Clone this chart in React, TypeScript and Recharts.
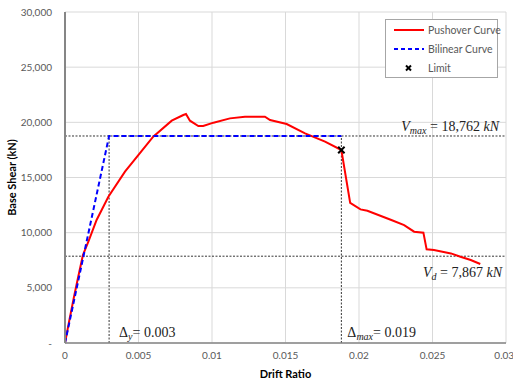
import React from "react";
import {
  ComposedChart,
  Line,
  Scatter,
  XAxis,
  YAxis,
  CartesianGrid,
  ReferenceLine,
  Legend,
} from "recharts";

const pushoverDrift = [
  0, 0.0003, 0.0006, 0.0009, 0.00122, 0.00159, 0.00215, 0.00295, 0.00408, 0.005,
  0.006, 0.00726, 0.00805, 0.00823, 0.0085, 0.00907, 0.0094, 0.0101, 0.01122,
  0.01224, 0.0136, 0.01395, 0.01508, 0.01633, 0.01769, 0.0188, 0.0194, 0.0201,
  0.02057, 0.0222, 0.02307, 0.02375, 0.02438, 0.0246, 0.0251, 0.02625, 0.0269,
  0.0276, 0.02825,
];
const pushoverShear = [
  0, 2100, 4100, 6000, 7980, 9180, 11150, 13260, 15530, 17040, 18700, 20150,
  20665, 20755, 20150, 19670, 19670, 19970, 20360, 20510, 20510, 20210, 19850,
  19000, 18250, 17490, 12700, 12110, 11990, 11150, 10690, 10090, 10000, 8490,
  8430, 8120, 7820, 7520, 7160,
];

const bilinearDrift = [0, 0.003, 0.0188];
const bilinearShear = [0, 18762, 18762];

const limitDrift = [0.0188];
const limitShear = [17490];

const V_MAX = 18762;
const V_D = 7867;
const DELTA_Y = 0.003;
const DELTA_MAX = 0.0188;

const xTicks = [0, 0.005, 0.01, 0.015, 0.02, 0.025, 0.03];
const yTicks = [0, 5000, 10000, 15000, 20000, 25000, 30000];

const legendItems = ["Pushover Curve", "Bilinear Curve", "Limit"];

const pushoverData = pushoverDrift.map((x, i) => ({ x, y: pushoverShear[i] }));
const bilinearData = bilinearDrift.map((x, i) => ({ x, y: bilinearShear[i] }));
const limitData = limitDrift.map((x, i) => ({ x, y: limitShear[i] }));

const SANS = "Lato, 'Liberation Sans', sans-serif";
const SERIF = "'Liberation Serif', 'DejaVu Serif', serif";

const XMark = (props: any) => {
  const { cx, cy } = props;
  const s = 3.2;
  return (
    <g stroke="#000" strokeWidth={2}>
      <line x1={cx - s} y1={cy - s} x2={cx + s} y2={cy + s} />
      <line x1={cx - s} y1={cy + s} x2={cx + s} y2={cy - s} />
    </g>
  );
};

const renderLegend = () => (
  <div
    style={{
      width: 113,
      height: 59,
      boxSizing: "border-box",
      border: "1px solid #a6a6a6",
      background: "#fff",
      position: "relative",
      fontFamily: SANS,
      fontSize: 10.5,
      color: "#595959",
      whiteSpace: "nowrap",
    }}
  >
    {legendItems.map((name, i) => (
      <div
        key={name}
        style={{
          position: "absolute",
          left: 0,
          top: 3 + i * 19,
          height: 14,
          width: 112,
          display: "flex",
          alignItems: "center",
          whiteSpace: "nowrap",
        }}
      >
        <svg width={42} height={14} style={{ display: "block", flex: "none" }}>
          {i === 0 && <line x1={8} y1={7} x2={38} y2={7} stroke="#ff0000" strokeWidth={2} />}
          {i === 1 && (
            <line x1={8} y1={7} x2={38} y2={7} stroke="#0000ff" strokeWidth={2} strokeDasharray="4 3" />
          )}
          {i === 2 && (
            <g stroke="#000" strokeWidth={2}>
              <line x1={20} y1={4.5} x2={25} y2={9.5} />
              <line x1={20} y1={9.5} x2={25} y2={4.5} />
            </g>
          )}
        </svg>
        <span style={{ lineHeight: "14px", whiteSpace: "nowrap" }}>{name}</span>
      </div>
    ))}
  </div>
);

const fmtNum = (v: number) => v.toLocaleString("en-US");

const VmaxLabel = (props: any) => {
  const vb = props.viewBox || {};
  const xEnd = vb.x + vb.width - 7;
  const y = vb.y - 5;
  return (
    <text x={xEnd} y={y} textAnchor="end" fontFamily={SERIF} fontSize={14} fill="#222">
      <tspan fontStyle="italic">V</tspan>
      <tspan fontStyle="italic" fontSize={10} dy={3}>max</tspan>
      <tspan dy={-3}>{` = ${fmtNum(V_MAX)} `}</tspan>
      <tspan fontStyle="italic">kN</tspan>
    </text>
  );
};

const VdLabel = (props: any) => {
  const vb = props.viewBox || {};
  const xEnd = vb.x + vb.width - 4;
  const y = vb.y + 21;
  return (
    <text x={xEnd} y={y} textAnchor="end" fontFamily={SERIF} fontSize={14} fill="#222">
      <tspan fontStyle="italic">V</tspan>
      <tspan fontStyle="italic" fontSize={10} dy={3}>d</tspan>
      <tspan dy={-3}>{` = ${fmtNum(V_D)} `}</tspan>
      <tspan fontStyle="italic">kN</tspan>
    </text>
  );
};

const makeDeltaLabel = (sub: string, value: string, dx: number) => (props: any) => {
  const vb = props.viewBox || {};
  const x = vb.x + dx;
  const y = vb.y + vb.height - 6;
  return (
    <text x={x} y={y} textAnchor="start" fontFamily={SERIF} fontSize={14} fill="#222">
      <tspan>Δ</tspan>
      <tspan fontStyle="italic" fontSize={10} dy={3}>{sub}</tspan>
      <tspan dy={-3}>{`= ${value}`}</tspan>
    </text>
  );
};

const DyLabel = makeDeltaLabel("y", "0.003", 10);
const DmaxLabel = makeDeltaLabel("max", "0.019", 6);

export default function App() {
  return (
    <div style={{ position: "absolute", left: 0, top: 0, width: 513, height: 381, background: "#fff" }}>
      <ComposedChart
        width={513}
        height={381}
        margin={{ top: 12, right: 7, bottom: 0, left: 0 }}
      >
        <CartesianGrid stroke="#d9d9d9" strokeWidth={1} horizontal vertical />
        <XAxis
          type="number"
          dataKey="x"
          domain={[0, 0.03]}
          ticks={xTicks}
          allowDataOverflow
          height={38}
          tickLine={false}
          tickSize={0}
          tickMargin={9}
          axisLine={{ stroke: "#868686", strokeWidth: 1.5 }}
          tick={{ fontSize: 10, fill: "#595959", fontFamily: SANS }}
          tickFormatter={(v: number) => String(v)}
          label={{
            value: "Drift Ratio",
            position: "insideBottom",
            offset: 3,
            style: { fontFamily: SANS, fontSize: 11, fontWeight: 700, fill: "#000" },
          }}
        />
        <YAxis
          type="number"
          domain={[0, 30000]}
          ticks={yTicks}
          width={65}
          tickLine={false}
          tickSize={0}
          tickMargin={13}
          axisLine={{ stroke: "#868686", strokeWidth: 2 }}
          tick={{ fontSize: 10, fill: "#595959", fontFamily: SANS }}
          tickFormatter={(v: number) => (v === 0 ? "-" : fmtNum(v))}
          label={{
            value: "Base Shear (kN)",
            angle: -90,
            position: "insideLeft",
            offset: 12,
            style: { textAnchor: "middle", fontFamily: SANS, fontSize: 11, fontWeight: 700, fill: "#000" },
          }}
        />
        <ReferenceLine
          segment={[{ x: 0, y: V_MAX }, { x: 0.03, y: V_MAX }]}
          stroke="#000"
          strokeWidth={0.8}
          strokeDasharray="2 1.5"
          label={<VmaxLabel />}
        />
        <ReferenceLine
          segment={[{ x: 0, y: V_D }, { x: 0.03, y: V_D }]}
          stroke="#000"
          strokeWidth={0.8}
          strokeDasharray="2 1.5"
          label={<VdLabel />}
        />
        <ReferenceLine
          segment={[{ x: DELTA_Y, y: 0 }, { x: DELTA_Y, y: V_MAX }]}
          stroke="#000"
          strokeWidth={0.8}
          strokeDasharray="2 1.5"
          label={<DyLabel />}
        />
        <ReferenceLine
          segment={[{ x: DELTA_MAX, y: 0 }, { x: DELTA_MAX, y: V_MAX }]}
          stroke="#000"
          strokeWidth={0.8}
          strokeDasharray="2 1.5"
          label={<DmaxLabel />}
        />
        <Line
          data={pushoverData}
          dataKey="y"
          type="linear"
          stroke="#ff0000"
          strokeWidth={2}
          dot={false}
          activeDot={false}
          isAnimationActive={false}
          name="Pushover Curve"
        />
        <Line
          data={bilinearData}
          dataKey="y"
          type="linear"
          stroke="#0000ff"
          strokeWidth={2}
          strokeDasharray="5 3"
          dot={false}
          activeDot={false}
          isAnimationActive={false}
          name="Bilinear Curve"
        />
        <Scatter
          data={limitData}
          dataKey="y"
          shape={<XMark />}
          isAnimationActive={false}
          name="Limit"
        />
        <Legend
          layout="horizontal"
          verticalAlign="middle"
          align="center"
          content={renderLegend}
          wrapperStyle={{ left: 385, top: 19, width: 113, height: 59 }}
        />
      </ComposedChart>
    </div>
  );
}
